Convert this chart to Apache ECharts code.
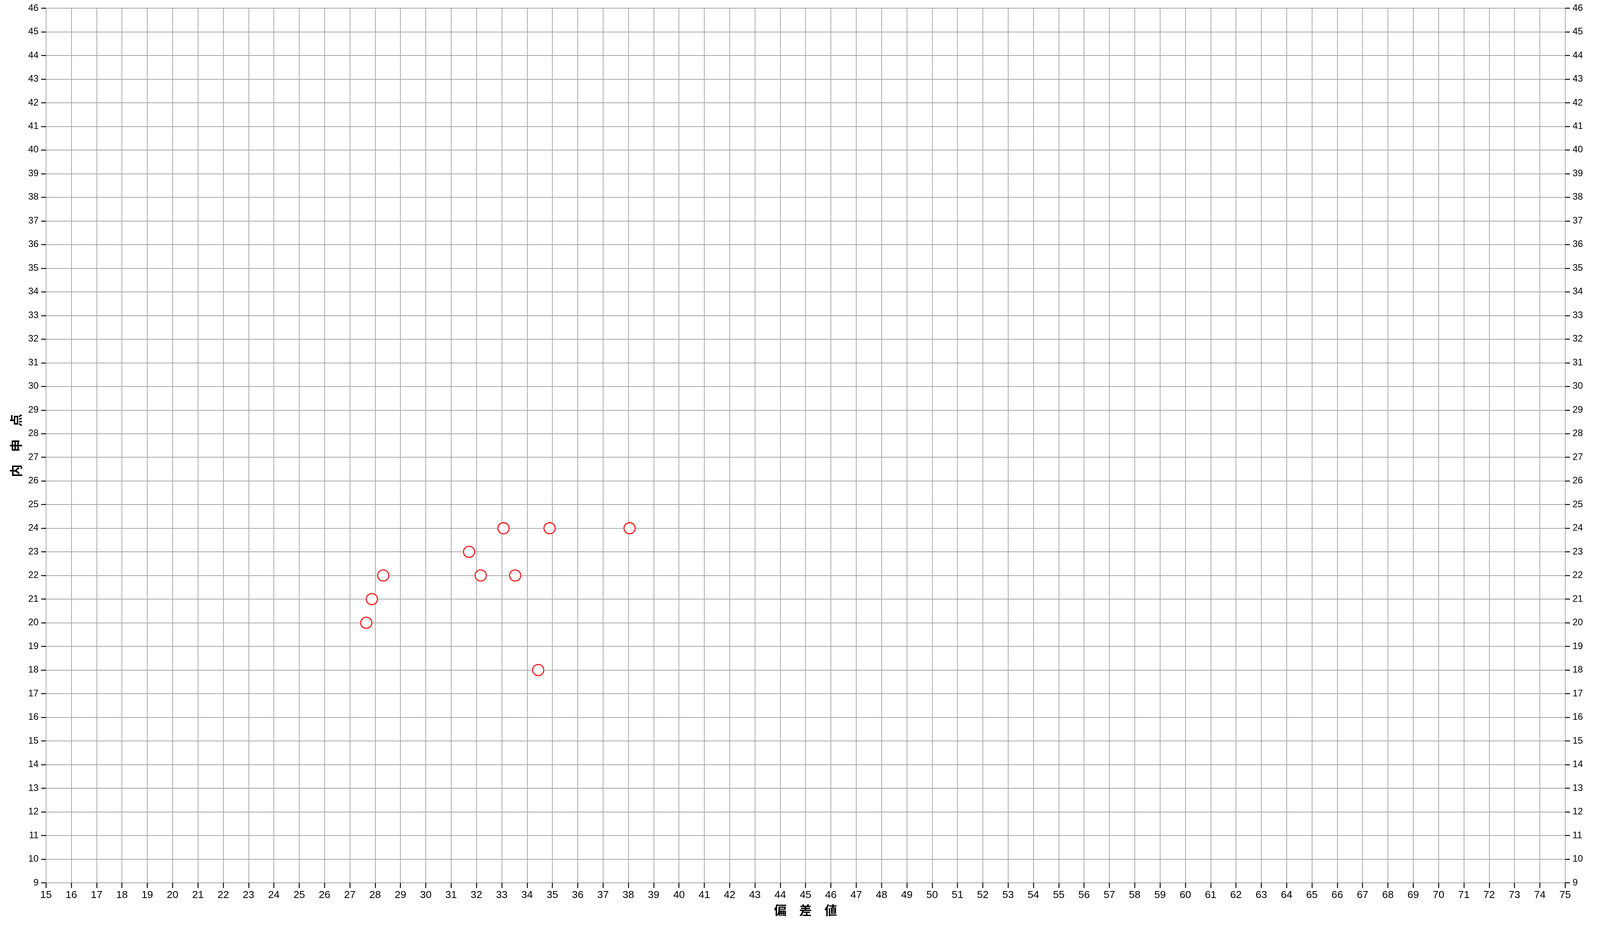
<!DOCTYPE html>
<html>
<head>
<meta charset="utf-8">
<script src="https://cdn.jsdelivr.net/npm/echarts@6/dist/echarts.min.js"></script>
<style>
html,body{margin:0;padding:0;background:#fff;overflow:hidden;}
#chart{width:100vw;height:100vh;}
</style>
</head>
<body>
<div id="chart"></div>
<script>
// 偏差値 (x) and 内申点 (y) of each point
const hensachi = [33.07, 34.89, 38.05, 31.71, 28.32, 32.17, 33.53, 27.87, 27.65, 34.44];
const naishin  = [24, 24, 24, 23, 22, 22, 22, 21, 20, 18];
const xAxisRange = [15, 75];
const yAxisRange = [9, 46];
const xTitle = '偏　差　値';
const yTitle = '内　申　点';

const points = hensachi.map((x, i) => [x, naishin[i]]);

// design was measured on a 4313 x 2367 canvas; scale to the real viewport
const W = window.innerWidth || 4313, H = window.innerHeight || 2367;
const sx = W / 4313, sy = H / 2367, s = Math.min(sx, sy);

const gridColor = '#a8a8a8';
const chart = echarts.init(document.getElementById('chart'), null, {renderer: 'canvas', width: W, height: H});
const yCommon = {
  type: 'value', min: yAxisRange[0], max: yAxisRange[1], interval: 1,
  axisLine: {show: false},
  axisTick: {show: true, length: 13 * s, lineStyle: {color: '#000', width: 2.5 * s}},
  axisLabel: {fontFamily: 'Liberation Sans, Arial, sans-serif', fontSize: 25 * s, color: '#000', margin: 20 * s}
};
chart.setOption({
  animation: false,
  backgroundColor: '#fff',
  grid: {left: 124 * sx, right: 94 * sx, top: 21 * sy, bottom: 108 * sy, containLabel: false},
  xAxis: {
    type: 'value', min: xAxisRange[0], max: xAxisRange[1], interval: 1,
    name: xTitle, nameLocation: 'middle', nameGap: 56 * s,
    nameTextStyle: {fontFamily: 'Noto Sans CJK JP', fontSize: 34 * s, fontWeight: 'bold', color: '#000'},
    axisLine: {show: false},
    axisTick: {show: true, length: 14 * s, lineStyle: {color: '#000', width: 2.5 * s}},
    axisLabel: {fontFamily: 'Liberation Sans Narrow, Arial Narrow, sans-serif', fontSize: 28 * s, color: '#000', margin: 19 * s},
    splitLine: {show: true, lineStyle: {color: gridColor, width: 2 * s}}
  },
  yAxis: [
    Object.assign({}, yCommon, {
      position: 'left',
      name: yTitle, nameLocation: 'middle', nameGap: 64 * s, nameRotate: 90,
      nameTextStyle: {fontFamily: 'Noto Sans CJK JP', fontSize: 34 * s, fontWeight: 'bold', color: '#000'},
      splitLine: {show: true, lineStyle: {color: gridColor, width: 2 * s}}
    }),
    Object.assign({}, yCommon, {
      position: 'right',
      splitLine: {show: false}
    })
  ],
  series: [{
    type: 'scatter',
    yAxisIndex: 0,
    data: points,
    symbol: 'circle',
    symbolSize: 30 * s,
    itemStyle: {color: '#ffffff', borderColor: '#ff1a1a', borderWidth: 3 * s, opacity: 1}
  }]
});
</script>
</body>
</html>
